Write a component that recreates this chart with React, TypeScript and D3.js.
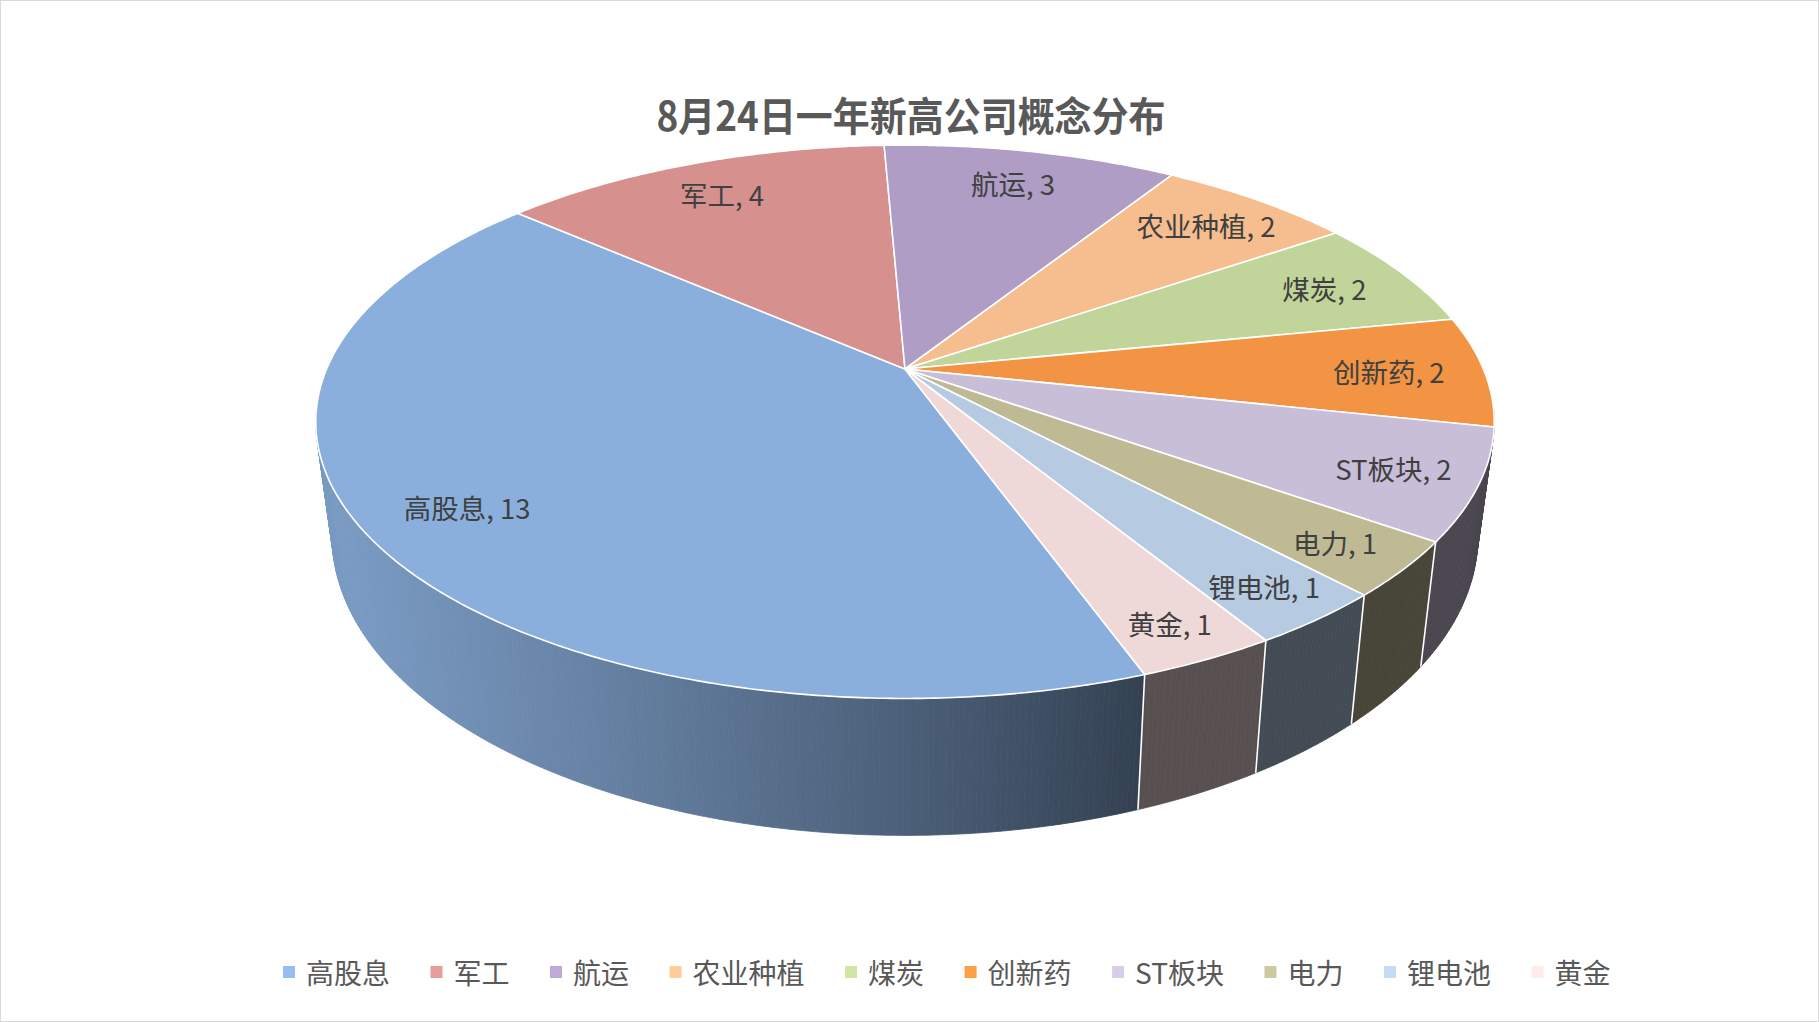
import React, { useEffect, useRef } from 'react';
import * as d3 from 'd3';

const title = '8月24日一年新高公司概念分布';
const categories = ['高股息', '军工', '航运', '农业种植', '煤炭', '创新药', 'ST板块', '电力', '锂电池', '黄金'];
const values = [13, 4, 3, 2, 2, 2, 2, 1, 1, 1];
const colors = ['#8aafdd', '#d6918f', '#af9dc5', '#f6bd8e', '#c1d49a', '#f29443', '#c8bed8', '#bfba94', '#b6cbe2', '#efd9d8'];

const W = 1819;
const H = 1022;

export default function App() {
  const ref = useRef<SVGSVGElement | null>(null);

  useEffect(() => {
    document.body.style.margin = '0';
    const svg = d3.select(ref.current);
    svg.selectAll('*').remove();

    // projection parameters (perspective 3D pie)
    const cx = 905, cy = 369;
    const A = 578.4, B = 266.6, k = 0.1908;
    const D = 110.8, s = 0.972;
    const rad = (deg: number) => (deg * Math.PI) / 180;

    const proj = (theta: number, r: number, bottom = false): [number, number] => {
      const u = r * Math.sin(theta);
      const v = -r * Math.cos(theta);
      const w = 1 - k * v;
      if (!bottom) return [cx + (A * u) / w, cy + (B * v) / w];
      return [cx + (s * A * u) / w, cy + (B * v) / w + D / w];
    };

    svg.append('rect').attr('x', 0).attr('y', 0).attr('width', W).attr('height', H).attr('fill', '#ffffff');
    svg.append('rect').attr('x', 0.5).attr('y', 0.5).attr('width', W - 1).attr('height', H - 1)
      .attr('fill', 'none').attr('stroke', '#d9d9d9').attr('stroke-width', 1);

    const start = rad(160.12);
    const pie = d3.pie<number>().sort(null).value((d) => d).startAngle(start).endAngle(start + 2 * Math.PI);
    const arcs = pie(values);

    const line = d3.line<[number, number]>();
    const gWall = svg.append('g');
    const gTop = svg.append('g');
    const gLab = svg.append('g');

    const thR = Math.acos(-k);
    const thL = 2 * Math.PI - thR;
    const norm = (a: number) => { let x = a % (2 * Math.PI); if (x < 0) x += 2 * Math.PI; return x; };

    type Quad = { pts: [number, number][]; color: string; depth: number };
    const quads: Quad[] = [];
    const edges: number[] = [];
    const step = rad(0.5);

    arcs.forEach((a, i) => {
      const a0 = norm(a.startAngle);
      const a1 = a0 + (a.endAngle - a.startAngle);
      for (const off of [0, -2 * Math.PI]) {
        const lo = Math.max(a0 + off, thR - rad(3));
        const hi = Math.min(a1 + off, thL + rad(3));
        if (hi <= lo) continue;
        const n = Math.max(1, Math.ceil((hi - lo) / step));
        for (let j = 0; j < n; j++) {
          const t0 = lo + ((hi - lo) * j) / n;
          const t1 = lo + ((hi - lo) * (j + 1)) / n;
          const tm = (t0 + t1) / 2;
          const alpha = (tm * 180) / Math.PI - 180;
          const f = 0.37 + 0.51 * Math.max(0, Math.cos(rad(alpha - 70)));
          const c = d3.rgb(colors[i]);
          const col = d3.rgb(c.r * f, c.g * f, c.b * f).formatHex();
          quads.push({
            pts: [proj(t0, 1), proj(t1, 1), proj(t1, 1, true), proj(t0, 1, true)],
            color: col,
            depth: -Math.cos(tm),
          });
        }
      }
      const e = norm(a.startAngle);
      if (e > thR + rad(2) && e < thL - rad(2)) edges.push(e);
    });

    quads.sort((p, q) => p.depth - q.depth);
    gWall.selectAll('path.q').data(quads).join('path')
      .attr('d', (q) => line(q.pts) + 'Z')
      .attr('fill', (q) => q.color)
      .attr('stroke', (q) => q.color)
      .attr('stroke-width', 0.8);

    gWall.selectAll('line.e').data(edges).join('line')
      .attr('x1', (e) => proj(e, 1)[0]).attr('y1', (e) => proj(e, 1)[1])
      .attr('x2', (e) => proj(e, 1, true)[0]).attr('y2', (e) => proj(e, 1, true)[1])
      .attr('stroke', '#ffffff').attr('stroke-width', 1.6);

    const slicePath = (a: d3.PieArcDatum<number>) => {
      const pts: [number, number][] = [[cx, cy]];
      const n = Math.max(2, Math.ceil((a.endAngle - a.startAngle) / rad(0.5)));
      for (let j = 0; j <= n; j++) {
        const t = a.startAngle + ((a.endAngle - a.startAngle) * j) / n;
        pts.push(proj(t, 1));
      }
      return line(pts) + 'Z';
    };
    gTop.selectAll('path').data(arcs).join('path')
      .attr('d', (a) => slicePath(a))
      .attr('fill', (_, i) => colors[i])
      .attr('stroke', '#ffffff')
      .attr('stroke-width', 1.6)
      .attr('stroke-linejoin', 'round');

    gLab.selectAll('text').data(arcs).join('text')
      .attr('transform', (a) => {
        const m = (a.startAngle + a.endAngle) / 2;
        const v = -Math.cos(m);
        const right = Math.sin(m) > 0 ? 1 : 0;
        const r = 0.835 + 0.065 * Math.max(0, v) * right;
        const [x, y] = proj(m, r);
        return `translate(${x},${y})`;
      })
      .attr('text-anchor', 'middle')
      .attr('dominant-baseline', 'central')
      .attr('font-family', '"Noto Sans CJK SC", "Noto Sans", sans-serif')
      .attr('font-size', 27.5)
      .attr('fill', '#404040')
      .text((_, i) => `${categories[i]}, ${values[i]}`);

    svg.append('text')
      .attr('x', 911).attr('y', 114)
      .attr('text-anchor', 'middle')
      .attr('dominant-baseline', 'central')
      .attr('font-family', '"Noto Sans CJK SC", sans-serif')
      .attr('font-weight', 'bold')
      .attr('font-size', 40)
      .attr('textLength', 509)
      .attr('lengthAdjust', 'spacingAndGlyphs')
      .attr('fill', '#595959')
      .text(title);

    const gLeg = svg.append('g');
    let x = 283;
    const ly = 972;
    categories.forEach((name, i) => {
      const c = d3.rgb(colors[i]).brighter(0.22).formatHex();
      gLeg.append('rect').attr('x', x).attr('y', ly - 6).attr('width', 12).attr('height', 12).attr('fill', c);
      const t = gLeg.append('text')
        .attr('x', x + 23).attr('y', ly)
        .attr('dominant-baseline', 'central')
        .attr('font-family', '"Noto Sans CJK SC", sans-serif')
        .attr('font-size', 28)
        .attr('fill', '#595959')
        .text(name);
      const tw = (t.node() as SVGTextElement).getComputedTextLength();
      x = x + 23 + tw + 40.5;
    });
  }, []);

  return <svg ref={ref} width={W} height={H} style={{ display: 'block' }} />;
}
